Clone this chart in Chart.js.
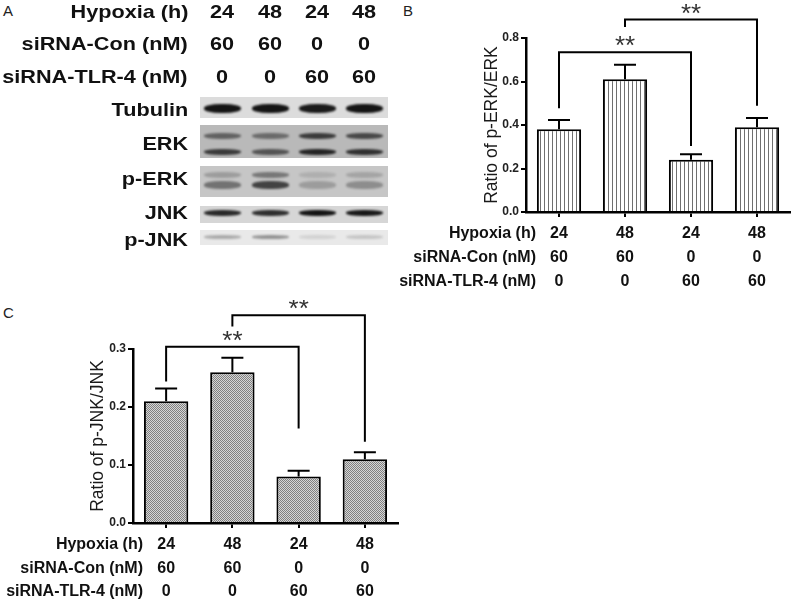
<!DOCTYPE html>
<html>
<head>
<meta charset="utf-8">
<script src="https://cdn.jsdelivr.net/npm/chart.js@4.4.1/dist/chart.umd.min.js"></script>
<style>
  body { margin: 0; background: #fff; font-family: "Liberation Sans", Arial, sans-serif; }
  #fig { position: relative; width: 795px; height: 606px; overflow: hidden; }
  .panel { position: absolute; font-size: 15px; color: #222; }
  .head { position: absolute; height: 24px; line-height: 24px; font-weight: bold; font-size: 19px; white-space: nowrap;
          text-align: right; transform: scaleX(1.14); transform-origin: right center; color: #111; }
  .num { position: absolute; width: 40px; height: 24px; line-height: 24px; font-weight: bold; font-size: 19px;
         text-align: center; transform: scaleX(1.14); color: #111; }
  .strip { position: absolute; left: 200px; width: 188px; overflow: hidden; }
  .band { position: absolute; width: 37px; border-radius: 45%; filter: blur(1.3px); }
  canvas { position: absolute; }
</style>
</head>
<body>
<div id="fig">
  <div class="panel" style="left:3px;top:2px">A</div>
  <div class="panel" style="left:403px;top:2px">B</div>
  <div class="panel" style="left:3px;top:304px">C</div>
  <canvas id="erkChart" width="395" height="300" style="left:400px;top:0"></canvas>
  <canvas id="jnkChart" width="400" height="306" style="left:0;top:300px"></canvas>
</div>
<script>
// treatment groups
const hypoxia = ['24', '48', '24', '48'];
const siCon = ['60', '60', '0', '0'];
const siTlr4 = ['0', '0', '60', '60'];
const rowHeaders = ['Hypoxia (h)', 'siRNA-Con (nM)', 'siRNA-TLR-4 (nM)'];

// densitometry ratios and error (upper bar only)
const erkRatio = [0.38, 0.61, 0.24, 0.39];
const erkSem = [0.043, 0.067, 0.025, 0.042];
const jnkRatio = [0.21, 0.26, 0.08, 0.11];
const jnkSem = [0.022, 0.025, 0.01, 0.012];

// significance brackets: from bar, to bar, top, left leg end, right leg end
const erkBrackets = [[0, 2, 0.735, 0.477, 0.303], [1, 3, 0.885, 0.851, 0.488]];
const jnkBrackets = [[0, 2, 0.304, 0.244, 0.163], [1, 3, 0.358, 0.339, 0.140]];

// western blot band darkness per lane
const blotNames = ['Tubulin', 'ERK', 'p-ERK', 'JNK', 'p-JNK'];
const tubulinBand = [0.95, 0.95, 0.92, 0.95];
const erkUpper = [0.5, 0.45, 0.72, 0.65];
const erkLower = [0.72, 0.58, 0.85, 0.78];
const perkUpper = [0.22, 0.42, 0.12, 0.18];
const perkLower = [0.45, 0.7, 0.22, 0.3];
const jnkBand = [0.85, 0.82, 0.95, 0.93];
const pjnkBand = [0.28, 0.38, 0.1, 0.16];

// ---- panel A ----
const fig = document.getElementById('fig');
const laneX = [222, 270, 317, 364];
const headRowsY = [12, 44, 77];

function addHead(text, y) {
  const d = document.createElement('div');
  d.className = 'head';
  d.textContent = text;
  d.style.right = (795 - 188) + 'px';
  d.style.top = (y - 12) + 'px';
  fig.appendChild(d);
}

[hypoxia, siCon, siTlr4].forEach((row, r) => {
  addHead(rowHeaders[r], headRowsY[r]);
  row.forEach((v, i) => {
    const d = document.createElement('div');
    d.className = 'num';
    d.textContent = v;
    d.style.left = (laneX[i] - 20) + 'px';
    d.style.top = (headRowsY[r] - 12) + 'px';
    fig.appendChild(d);
  });
});

const strips = [
  { top: 97, h: 21, bg: '#dcdcdc', labelY: 110, bands: [[11, 9, tubulinBand]] },
  { top: 125, h: 33, bg: '#b9b9b9', labelY: 144, bands: [[11, 6, erkUpper], [27, 6, erkLower]] },
  { top: 166, h: 31, bg: '#c6c6c6', labelY: 179, bands: [[9, 6, perkUpper], [19, 8, perkLower]] },
  { top: 206, h: 17, bg: '#d6d6d6', labelY: 213, bands: [[7, 6, jnkBand]] },
  { top: 230, h: 15, bg: '#e9e9e9', labelY: 240, bands: [[7, 4, pjnkBand]] }
];

strips.forEach((s, k) => {
  addHead(blotNames[k], s.labelY);
  const st = document.createElement('div');
  st.className = 'strip';
  st.style.top = s.top + 'px';
  st.style.height = s.h + 'px';
  st.style.background = s.bg;
  s.bands.forEach(([cy, bh, dark]) => {
    dark.forEach((a, i) => {
      const b = document.createElement('div');
      b.className = 'band';
      b.style.left = (laneX[i] - 200 - 18) + 'px';
      b.style.top = (cy - bh / 2) + 'px';
      b.style.height = bh + 'px';
      b.style.background = 'rgba(10,10,10,' + a + ')';
      st.appendChild(b);
    });
  });
  fig.appendChild(st);
});

// ---- panels B and C ----
function stripePattern() {
  const c = document.createElement('canvas');
  c.width = 4; c.height = 4;
  const g = c.getContext('2d');
  g.fillStyle = '#fff'; g.fillRect(0, 0, 4, 4);
  g.fillStyle = '#707070'; g.fillRect(0, 0, 1, 4);
  return g.createPattern(c, 'repeat');
}

function checkerPattern() {
  const c = document.createElement('canvas');
  c.width = 2; c.height = 2;
  const g = c.getContext('2d');
  g.fillStyle = '#d6d6d6'; g.fillRect(0, 0, 2, 2);
  g.fillStyle = '#808080'; g.fillRect(0, 0, 1, 1); g.fillRect(1, 1, 1, 1);
  return g.createPattern(c, 'repeat');
}

function extrasPlugin(values, sem, brackets, rowGap) {
  return {
    id: 'extras',
    afterDatasetsDraw(chart) {
      const { ctx } = chart;
      const x = chart.scales.x, y = chart.scales.y;
      ctx.save();
      ctx.strokeStyle = '#000';
      ctx.fillStyle = '#000';
      ctx.lineWidth = 2;
      // error bars
      values.forEach((v, i) => {
        const px = x.getPixelForValue(i);
        const y0 = y.getPixelForValue(v), y1 = y.getPixelForValue(v + sem[i]);
        ctx.beginPath();
        ctx.moveTo(px, y0); ctx.lineTo(px, y1);
        ctx.moveTo(px - 11, y1); ctx.lineTo(px + 11, y1);
        ctx.stroke();
      });
      // brackets with stars
      ctx.font = '26px "Liberation Sans", Arial';
      ctx.textAlign = 'center';
      ctx.textBaseline = 'alphabetic';
      brackets.forEach(([a, b, top, l, r]) => {
        const xa = x.getPixelForValue(a), xb = x.getPixelForValue(b), yt = y.getPixelForValue(top);
        ctx.beginPath();
        ctx.moveTo(xa, y.getPixelForValue(l));
        ctx.lineTo(xa, yt); ctx.lineTo(xb, yt);
        ctx.lineTo(xb, y.getPixelForValue(r));
        ctx.stroke();
        const m = ctx.measureText('**');
        ctx.fillStyle = '#333';
        ctx.fillText('**', (xa + xb) / 2, yt - 11 + (m.actualBoundingBoxAscent - m.actualBoundingBoxDescent) / 2);
      });
      // row headers under the axis
      ctx.fillStyle = '#111';
      ctx.font = 'bold 16px "Liberation Sans", Arial';
      ctx.textAlign = 'right';
      ctx.textBaseline = 'middle';
      rowHeaders.forEach((t, i) => ctx.fillText(t, x.left + 10, x.top + 10 + rowGap * (i + 0.5)));
      ctx.restore();
    }
  };
}

function makeChart(id, values, sem, brackets, fill, cfg) {
  const labels = hypoxia.map((h, i) => [h, siCon[i], siTlr4[i]]);
  return new Chart(document.getElementById(id), {
    type: 'bar',
    data: {
      labels: labels,
      datasets: [{
        data: values,
        backgroundColor: fill,
        borderColor: '#000',
        borderWidth: 2,
        categoryPercentage: 1,
        barPercentage: 0.67
      }]
    },
    options: {
      responsive: false,
      animation: false,
      layout: { padding: { top: cfg.top, right: cfg.right, left: 0, bottom: 0 } },
      plugins: { legend: { display: false }, tooltip: { enabled: false } },
      scales: {
        x: {
          grid: { display: true, drawOnChartArea: false, offset: false, tickLength: 5, color: '#000', lineWidth: 2 },
          border: { display: true, color: '#000', width: 2.5 },
          ticks: {
            color: '#111', padding: 5, maxRotation: 0, autoSkip: false,
            font: { family: '"Liberation Sans", Arial', size: 16, weight: 'bold', lineHeight: cfg.rowGap / 16 }
          },
          afterFit: s => { s.height = cfg.xHeight; }
        },
        y: {
          min: 0, max: cfg.max,
          grid: { display: true, drawOnChartArea: false, tickLength: 5, color: '#000', lineWidth: 2 },
          border: { display: true, color: '#000', width: 2.5 },
          ticks: {
            stepSize: cfg.step, padding: 2, color: '#222',
            font: { family: '"Liberation Sans", Arial', size: 12, weight: 'bold' },
            callback: v => v.toFixed(1)
          },
          title: {
            display: true, text: cfg.title, color: '#1a1a1a',
            font: { family: '"Liberation Sans", Arial', size: 17.5 },
            padding: { top: cfg.titlePad, bottom: 0 }
          },
          afterFit: s => { s.width = cfg.yWidth; }
        }
      }
    },
    plugins: [extrasPlugin(values, sem, brackets, cfg.rowGap)]
  });
}

makeChart('erkChart', erkRatio, erkSem, erkBrackets, stripePattern(), {
  top: 38, right: 5, xHeight: 88, yWidth: 126, max: 0.8, step: 0.2,
  title: 'Ratio of p-ERK/ERK', titlePad: 82, rowGap: 24
});

makeChart('jnkChart', jnkRatio, jnkSem, jnkBrackets, checkerPattern(), {
  top: 49, right: 2, xHeight: 83, yWidth: 133, max: 0.3, step: 0.1,
  title: 'Ratio of p-JNK/JNK', titlePad: 88, rowGap: 23.5
});
</script>
</body>
</html>
